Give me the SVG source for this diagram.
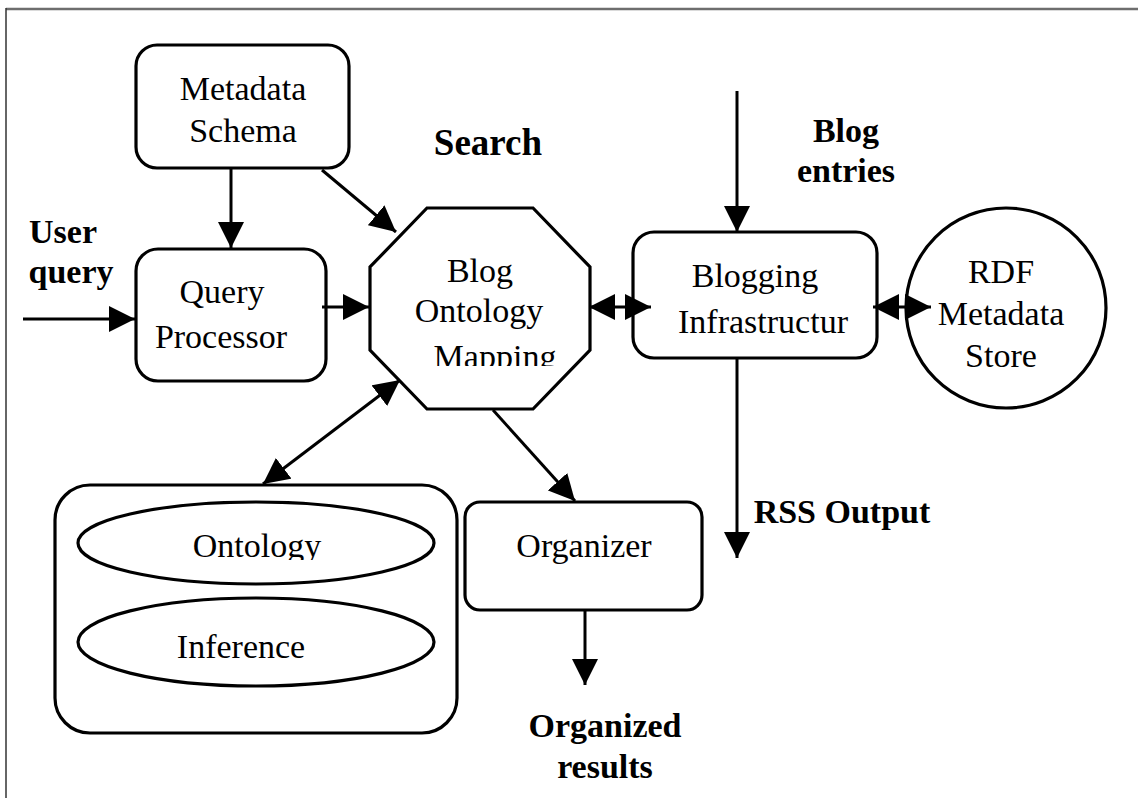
<svg xmlns="http://www.w3.org/2000/svg" width="1138" height="798" viewBox="0 0 1138 798">
<style>
.shape{fill:#fff;stroke:#000;stroke-width:3.2}
.t{font-family:"Liberation Serif","Times New Roman",serif;font-size:34px;fill:#000;text-anchor:middle}
.b{font-family:"Liberation Serif","Times New Roman",serif;font-size:34px;font-weight:bold;fill:#000;text-anchor:middle}
.c{fill:none;stroke:#000;stroke-width:3}
</style>
<defs>
<marker id="ah" markerUnits="userSpaceOnUse" markerWidth="27" markerHeight="27" refX="26" refY="13" orient="auto-start-reverse">
<path d="M0,0 L26,13 L0,26 z" fill="#000"/>
</marker>
<clipPath id="clipMap"><rect x="370" y="200" width="230" height="166"/></clipPath>
<clipPath id="clipOnt"><rect x="70" y="500" width="380" height="60"/></clipPath>
</defs>
<rect width="1138" height="798" fill="#fff"/>
<g id="frame">
<line x1="6" y1="9" x2="1138" y2="9" stroke="#6e6e6e" stroke-width="2.5"/>
<line x1="6" y1="8" x2="6" y2="798" stroke="#333" stroke-width="1.5"/>
</g>
<g id="metadata-schema">
<rect class="shape" x="136" y="45" width="213" height="123" rx="21"/>
<text class="t" x="243" y="100">Metadata</text>
<text class="t" x="243" y="142">Schema</text>
</g>
<g id="query-processor">
<rect class="shape" x="136" y="249" width="190" height="132" rx="22"/>
<text class="t" x="222" y="303">Query</text>
<text class="t" x="221" y="348">Processor</text>
</g>
<g id="blog-ontology-mapping">
<polygon class="shape" points="427,208 533,208 590,267 590,350 533,409 427,409 370,350 370,267"/>
<text class="t" x="480" y="282">Blog</text>
<text class="t" x="479" y="322">Ontology</text>
<text class="t" x="495" y="368" clip-path="url(#clipMap)">Mapping</text>
</g>
<g id="blogging-infrastructure">
<rect class="shape" x="633" y="232" width="244" height="126" rx="21"/>
<text class="t" x="755" y="287">Blogging</text>
<text class="t" x="763" y="333">Infrastructur</text>
</g>
<g id="rdf-store">
<circle class="shape" cx="1006" cy="308" r="100"/>
<text class="t" x="1001" y="283">RDF</text>
<text class="t" x="1001" y="325">Metadata</text>
<text class="t" x="1001" y="367">Store</text>
</g>
<g id="organizer">
<rect class="shape" x="465" y="502" width="237" height="108" rx="15"/>
<text class="t" x="584" y="557">Organizer</text>
</g>
<g id="knowledge-base">
<rect class="shape" x="55" y="485" width="402" height="248" rx="35"/>
<ellipse class="shape" cx="256" cy="543" rx="178" ry="41"/>
<text class="t" x="257" y="557" clip-path="url(#clipOnt)">Ontology</text>
<ellipse class="shape" cx="256" cy="642" rx="178" ry="44"/>
<text class="t" x="241" y="658">Inference</text>
</g>
<g id="connectors">
<line class="c" x1="23" y1="319" x2="135" y2="319" marker-end="url(#ah)"/>
<line class="c" x1="231" y1="168" x2="231" y2="248" marker-end="url(#ah)"/>
<line class="c" x1="322" y1="170" x2="396" y2="232" marker-end="url(#ah)"/>
<line class="c" x1="322" y1="307" x2="369" y2="307" marker-end="url(#ah)"/>
<line class="c" x1="589" y1="307" x2="651" y2="307" marker-start="url(#ah)" marker-end="url(#ah)"/>
<line class="c" x1="873" y1="307" x2="931" y2="307" marker-start="url(#ah)" marker-end="url(#ah)"/>
<line class="c" x1="737" y1="91" x2="737" y2="232" marker-end="url(#ah)"/>
<line class="c" x1="737" y1="358" x2="737" y2="558" marker-end="url(#ah)"/>
<line class="c" x1="263" y1="484" x2="400" y2="380" marker-start="url(#ah)" marker-end="url(#ah)"/>
<line class="c" x1="493" y1="410" x2="575" y2="501" marker-end="url(#ah)"/>
<line class="c" x1="585" y1="610" x2="585" y2="685" marker-end="url(#ah)"/>
</g>
<g id="labels">
<text class="b" x="488" y="155" style="font-size:37px">Search</text>
<text class="b" x="846" y="142">Blog</text>
<text class="b" x="846" y="182">entries</text>
<text class="b" x="63" y="243">User</text>
<text class="b" x="71" y="283">query</text>
<text class="b" x="842" y="523">RSS Output</text>
<text class="b" x="605" y="737">Organized</text>
<text class="b" x="605" y="778">results</text>
</g>
</svg>
